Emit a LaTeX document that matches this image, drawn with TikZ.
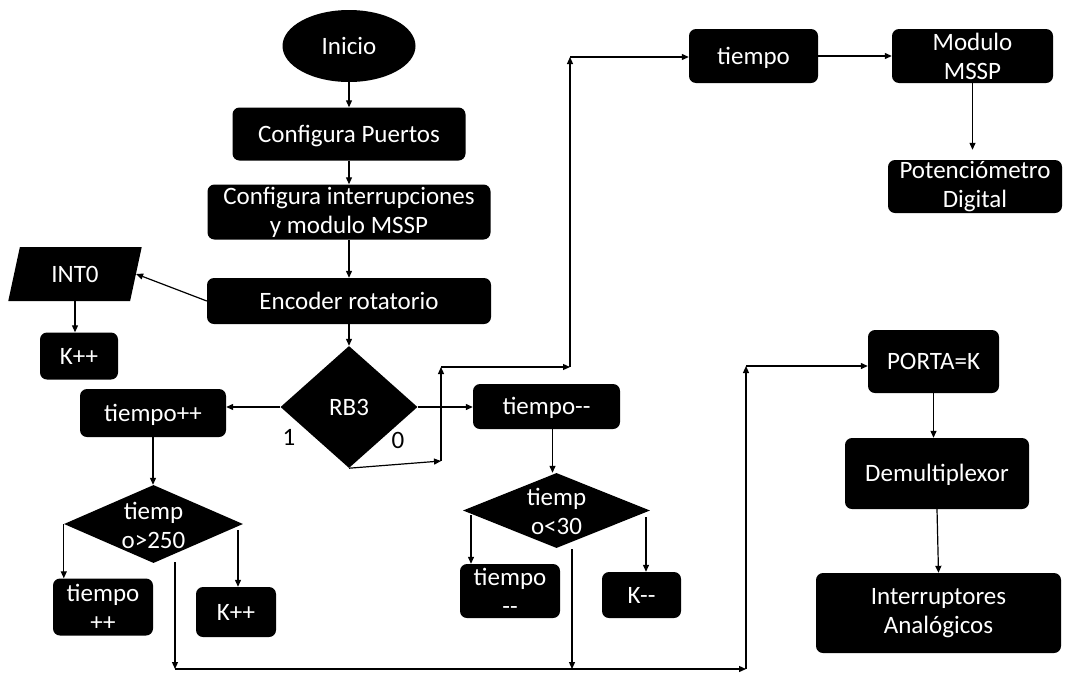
\documentclass[tikz,border=0pt]{standalone}
\usepackage{fontspec}
\setmainfont{Carlito}
\usetikzlibrary{shapes.geometric,arrows.meta}
\begin{document}
\begin{tikzpicture}[x=1pt,y=-1pt,
  font=\fontsize{25}{29}\selectfont,
  box/.style={fill=black,text=white,rounded corners=7pt,inner sep=0pt,align=center},
  sl/.style={text height=18pt,text depth=2pt},
  arr/.style={-{Triangle[length=7pt,width=6pt]},line width=1.2pt},
  diam/.style={diamond,fill=black,text=white,inner sep=0pt,align=center},
  dtext/.style={text=white,inner sep=0pt,align=center}]
\useasboundingbox (0,0) rectangle (1078,675);
% nodes
\node[ellipse,sl,fill=black,text=white,minimum width=133,minimum height=72,inner sep=0pt] (ini) at (349,46) {Inicio};
\node[box,sl,minimum width=233,minimum height=53] (cp) at (349,134) {Configura Puertos};
\node[box,minimum width=283,minimum height=55] (ci) at (349,212) {Configura interrupciones\\y modulo MSSP};
\node[box,sl,minimum width=284,minimum height=46] (enc) at (349,301) {Encoder rotatorio};
\node[trapezium,sl,trapezium left angle=76,trapezium right angle=104,trapezium stretches=true,fill=black,text=white,inner sep=0pt,minimum width=134,minimum height=54] (int0) at (75,274) {INT0};
\node[box,sl,minimum width=78,minimum height=47] (k1) at (79,356) {K++};
\node[diam,sl,minimum width=137,minimum height=122] (rb3) at (349,407) {RB3};
\node[box,sl,minimum width=146,minimum height=48] (tpp) at (153,413) {tiempo++};
\node[box,sl,minimum width=147,minimum height=45] (tmm) at (546.5,406.5) {tiempo-{}-};
\node[diam,minimum width=179,minimum height=78] (d2) at (153.5,524) {};
\node[dtext] (d2t) at ([yshift=-1pt]d2.center) {tiemp\\o>250};
\node[box,minimum width=100,minimum height=57] (tpp2) at (103,607) {tiempo\\++};
\node[box,sl,minimum width=80,minimum height=50] (k2) at (236,612) {K++};
\node[diam,minimum width=187,minimum height=75] (d3) at (556.5,510.5) {};
\node[dtext] (d3t) at ([yshift=-1pt]d3.center) {tiemp\\o<30};
\node[box,minimum width=100,minimum height=54] (tmm2) at (510,591) {tiempo\\-{}-};
\node[box,sl,minimum width=79,minimum height=46] (km) at (641.5,595) {K-{}-};
\node[box,sl,minimum width=129,minimum height=54] (tie) at (753.5,56) {tiempo};
\node[box,minimum width=161,minimum height=54] (mod) at (972.5,56) {Modulo\\MSSP};
\node[box,minimum width=174,minimum height=53] (pot) at (975,186.5) {Potenciómetro\\Digital};
\node[box,sl,minimum width=131,minimum height=63] (porta) at (933.5,361.5) {PORTA=K};
\node[box,sl,minimum width=184,minimum height=71] (dem) at (937,473.5) {Demultiplexor};
\node[box,minimum width=245,minimum height=80] (intr) at (938.5,613) {Interruptores\\Analógicos};
\node[inner sep=0pt] (l1) at (289,437) {1};
\node[inner sep=0pt] (l0) at (398,440) {0};
% coordinates
\coordinate (c1) at (441,461);
\coordinate (c2) at (441,367);
\coordinate (c3) at (570,367);
\coordinate (c4) at (570,57);
\coordinate (s1) at (175,562);
\coordinate (s2) at (572,549);
\coordinate (b1) at (175,669);
\coordinate (b2) at (572,669);
\coordinate (b3) at (746,669);
\coordinate (b4) at (746,366);
\coordinate (a2) at (238,530);
\coordinate (a3) at (471,515);
\coordinate (a4) at (646,517);
% connectors
\draw[arr] (ini.south) -- (cp.north);
\draw[arr] (cp.south) -- (ci.north);
\draw[arr] (ci.south) -- (enc.north);
\draw[arr] (enc.south) -- (rb3.north);
\draw[arr] (enc.west) -- (int0.east);
\draw[arr] (int0.south) -- (int0.south |- k1.north);
\draw[arr] (rb3.west) -- (rb3.west -| tpp.east);
\draw[arr] (rb3.east) -- (rb3.east -| tmm.west);
\draw[arr] (tpp.south) -- (tpp.south |- d2.north);
\draw[arr] ([xshift=6pt]tmm.south) -- ([xshift=6pt]tmm.south |- d3.north);
\draw[arr] (rb3.south) -- (c1);
\draw[arr] (c1) -- (c2);
\draw[arr] (c2) -- (c3);
\draw[arr] (c3) -- (c4);
\draw[arr] (c4) -- (c4 -| tie.west);
\draw[arr] (tie.east) -- (mod.west);
\draw[arr,shorten >=10pt] (mod.south) -- (mod.south |- pot.north);
\draw[arr] (d2.west) -- (d2.west |- tpp2.north);
\draw[arr] (a2) -- (a2 |- k2.north);
\draw[arr] (s1) -- (b1);
\draw[arr] (b1) -- (b3);
\draw[arr] (s2) -- (b2);
\draw[arr] (b3) -- (b4);
\draw[arr] (b4) -- (b4 -| porta.west);
\draw[arr] (porta.south) -- (porta.south |- dem.north);
\draw[arr] (dem.south) -- (intr.north);
\draw[arr] (a3) -- (a3 |- tmm2.north);
\draw[arr] (a4) -- (a4 |- km.north);
\end{tikzpicture}
\end{document}
